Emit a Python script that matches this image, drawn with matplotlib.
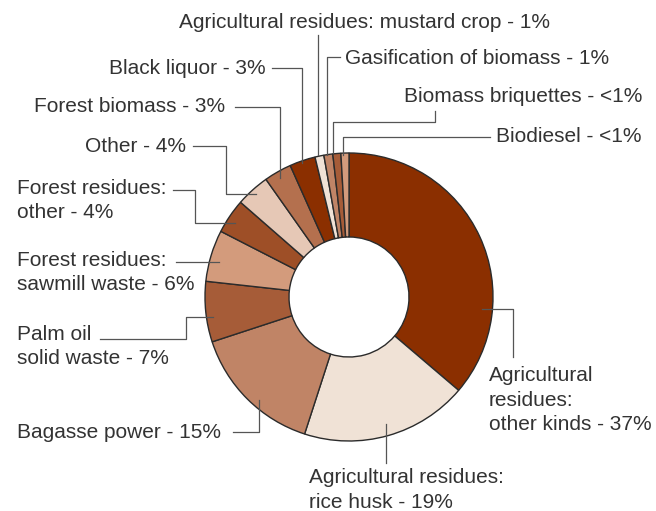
import matplotlib.pyplot as plt

plt.rcParams['font.family'] = ['Liberation Sans', 'DejaVu Sans']

# Share of biomass power capacity by source
labels = [
    'Agricultural\nresidues:\nother kinds - 37%',
    'Agricultural residues:\nrice husk - 19%',
    'Bagasse power - 15%',
    'Palm oil\nsolid waste - 7%',
    'Forest residues:\nsawmill waste - 6%',
    'Forest residues:\nother - 4%',
    'Other - 4%',
    'Forest biomass - 3%',
    'Black liquor - 3%',
    'Agricultural residues: mustard crop - 1%',
    'Gasification of biomass - 1%',
    'Biomass briquettes - <1%',
    'Biodiesel - <1%',
]
shares = [36.3, 18.8, 15.0, 6.8, 5.8, 3.9, 3.8, 3.1, 2.9, 1.0, 1.0, 0.9, 0.9]
colors = ['#8B2F00', '#F0E2D6', '#C08466', '#A65C38', '#D39B7C', '#9E4F27', '#E6C8B6',
          '#B4704E', '#8B2F00', '#F0E2D6', '#C08466', '#A65C38', '#D39B7C']

# label layout in pixel coords: (x, y, ha) and leader path
label_pos = [
    (489, 400, 'left'), (309, 490, 'left'), (17, 433, 'left'), (17, 346.5, 'left'),
    (17, 272.5, 'left'), (17, 200.5, 'left'), (186, 146, 'right'), (225, 107, 'right'),
    (266, 68, 'right'), (179, 23, 'left'), (345, 58, 'left'), (642, 97, 'right'),
    (642, 137, 'right'),
]
leaders = [
    [(482, 309), (513, 309), (513, 357)],
    [(386, 424), (386, 463)],
    [(259, 400), (259, 432), (233, 432)],
    [(213, 317), (186, 317), (186, 339), (100, 339)],
    [(219, 262), (176, 262)],
    [(235, 223), (195, 223), (195, 190), (173, 190)],
    [(256, 194), (226, 194), (226, 146), (193, 146)],
    [(280, 178), (280, 107), (235, 107)],
    [(302, 163), (302, 68), (272, 68)],
    [(318, 155), (318, 35)],
    [(327, 155), (327, 57), (340, 57)],
    [(333, 153), (333, 122), (435, 122), (435, 111)],
    [(343, 155), (343, 137), (490, 137)],
]

fig = plt.figure(figsize=(6.56, 5.11), dpi=100)
ax = fig.add_axes([0, 0, 1, 1])

ax.pie(shares, colors=colors, center=(349, 297), radius=144, startangle=-90,
       counterclock=True, wedgeprops=dict(width=84, edgecolor='#2b2b2b', linewidth=1.0))

for lab, (x, y, ha), path in zip(labels, label_pos, leaders):
    xs = [p[0] for p in path]
    ys = [p[1] for p in path]
    ax.plot(xs, ys, color='#555555', lw=0.9, zorder=3)
    ax.text(x, y, lab, ha=ha, va='center', fontsize=15, color='#333333', linespacing=1.37)

ax.set_xlim(0, 656)
ax.set_ylim(511, 0)
ax.set_aspect('equal')
ax.axis('off')

fig.savefig('out.png', dpi=100, facecolor='white')
